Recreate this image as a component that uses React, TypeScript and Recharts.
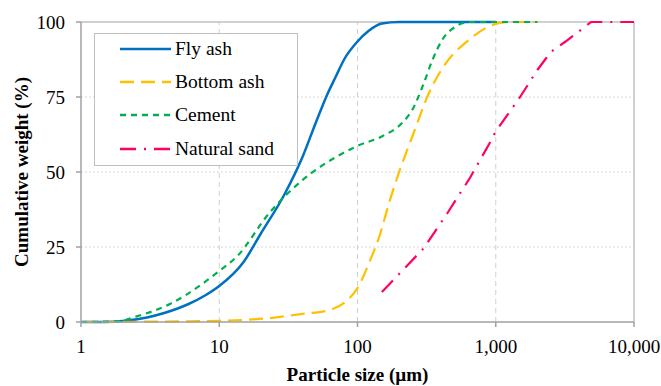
import {
  LineChart,
  Line,
  XAxis,
  YAxis,
  ReferenceLine,
  Label,
} from 'recharts';

type Pt = { size: number; pct: number };

const flyAsh: Pt[] = [
  { size: 1, pct: 0 }, { size: 1.5, pct: 0 }, { size: 2, pct: 0.3 }, { size: 3, pct: 1.5 },
  { size: 4, pct: 3 }, { size: 5, pct: 4.5 }, { size: 6, pct: 6 }, { size: 8, pct: 9 },
  { size: 10, pct: 12 }, { size: 15, pct: 20 }, { size: 20, pct: 29.5 }, { size: 30, pct: 43 },
  { size: 40, pct: 55 }, { size: 50, pct: 66.5 }, { size: 60, pct: 75.5 }, { size: 70, pct: 82 },
  { size: 80, pct: 87.5 }, { size: 100, pct: 93.5 }, { size: 120, pct: 97 }, { size: 150, pct: 99.5 },
  { size: 200, pct: 100 }, { size: 1000, pct: 100 },
];

const bottomAsh: Pt[] = [
  { size: 1, pct: 0 }, { size: 3, pct: 0.1 }, { size: 10, pct: 0.4 }, { size: 23, pct: 1.3 },
  { size: 40, pct: 2.7 }, { size: 63, pct: 4 }, { size: 83, pct: 7 }, { size: 100, pct: 11.3 },
  { size: 122, pct: 20 }, { size: 145, pct: 29 }, { size: 170, pct: 40 }, { size: 200, pct: 50 },
  { size: 250, pct: 62 }, { size: 330, pct: 76.5 }, { size: 436, pct: 86.3 }, { size: 640, pct: 94 },
  { size: 890, pct: 98.5 }, { size: 1250, pct: 100 }, { size: 2000, pct: 100 },
];

const cement: Pt[] = [
  { size: 1, pct: 0 }, { size: 1.9, pct: 0.3 }, { size: 2.5, pct: 1.8 }, { size: 4.4, pct: 6 },
  { size: 7.7, pct: 13 }, { size: 10, pct: 17 }, { size: 13.4, pct: 21.8 }, { size: 23, pct: 36.3 },
  { size: 40, pct: 47.3 }, { size: 54, pct: 51.8 }, { size: 70, pct: 55 }, { size: 100, pct: 58.7 },
  { size: 152, pct: 62 }, { size: 212, pct: 66.5 }, { size: 251, pct: 71 }, { size: 296, pct: 78.6 },
  { size: 349, pct: 87.4 }, { size: 409, pct: 94 }, { size: 514, pct: 98.5 }, { size: 640, pct: 100 },
  { size: 2000, pct: 100 },
];

const naturalSand: Pt[] = [
  { size: 150, pct: 10 }, { size: 300, pct: 24.5 }, { size: 450, pct: 36.5 }, { size: 650, pct: 48 },
  { size: 900, pct: 59.5 }, { size: 1000, pct: 63.5 }, { size: 1500, pct: 75 }, { size: 2000, pct: 84 },
  { size: 2500, pct: 90 }, { size: 3200, pct: 93.5 }, { size: 4900, pct: 100 }, { size: 10000, pct: 100 },
];

const xTicks = [1, 10, 100, 1000, 10000];
const yTicks = [0, 25, 50, 75, 100];

const series = [
  { name: 'Fly ash', data: flyAsh, color: '#0070C0', dash: undefined, width: 2.5, type: 'monotone' },
  { name: 'Bottom ash', data: bottomAsh, color: '#FFC000', dash: '14 7', width: 2.2, type: 'monotone' },
  { name: 'Cement', data: cement, color: '#00B050', dash: '6 5', width: 2.2, type: 'monotone' },
  { name: 'Natural sand', data: naturalSand, color: '#FF0066', dash: '16 8 2 8', width: 2.2, type: 'linear' },
] as const;

const font = '"Liberation Serif", "Times New Roman", serif';
const tickStyle = { fontSize: 19, fill: '#000', fontFamily: font };
const axisStroke = { stroke: '#a0a0a0', strokeWidth: 1.5 };

function YTitle(props: any) {
  const vb = props.viewBox || {};
  const cy = (vb.y ?? 22) + (vb.height ?? 300) / 2;
  const cx = 21;
  return (
    <text
      x={cx}
      y={cy}
      transform={`rotate(-90, ${cx}, ${cy})`}
      textAnchor="middle"
      dominantBaseline="central"
      style={{ fontSize: 19, fontWeight: 'bold', fill: '#000', fontFamily: font }}
    >
      Cumulative weight (%)
    </text>
  );
}

// legend drawn as a plain box over the plot, like the original
function LegendBox() {
  return (
    <div
      style={{
        position: 'absolute',
        left: 94,
        top: 33,
        width: 204,
        height: 133,
        border: '1.5px solid #c0c0c0',
        background: '#fff',
        fontFamily: font,
        fontSize: 19.5,
        color: '#000',
        boxSizing: 'border-box',
      }}
    >
      <div style={{ position: 'relative', top: -2 }}>
        {series.map((s) => (
          <div key={s.name} style={{ display: 'flex', alignItems: 'center', height: 33.4 }}>
            <svg width={80} height={10}>
              <line
                x1={25}
                x2={76}
                y1={5}
                y2={5}
                stroke={s.color}
                strokeWidth={2.5}
                strokeDasharray={s.dash}
              />
            </svg>
            <span>{s.name}</span>
          </div>
        ))}
      </div>
    </div>
  );
}

export default function App() {
  return (
    <div style={{ position: 'absolute', left: 0, top: 0, width: 661, height: 386, background: '#fff' }}>
      <LineChart
        width={661}
        height={386}
        margin={{ top: 22, right: 27, left: 0, bottom: 0 }}
        style={{ fontFamily: font }}
      >
        {xTicks.slice(1, -1).map((t) => (
          <ReferenceLine key={`vx${t}`} x={t} stroke="#d0d0d0" strokeDasharray="5 4" />
        ))}
        {yTicks.slice(1, -1).map((t) => (
          <ReferenceLine key={`hy${t}`} y={t} stroke="#d6d6d6" strokeDasharray="2 2" />
        ))}
        <ReferenceLine y={100} stroke="#c0c0c0" strokeWidth={1.5} />
        <ReferenceLine x={10000} stroke="#c0c0c0" strokeWidth={1.5} />
        <XAxis
          type="number"
          dataKey="size"
          scale="log"
          domain={[1, 10000]}
          ticks={xTicks}
          allowDataOverflow
          tickFormatter={(v: number) => v.toLocaleString('en-US')}
          tick={tickStyle}
          tickSize={5}
          tickMargin={13}
          axisLine={axisStroke}
          tickLine={axisStroke}
          height={64}
          label={{
            value: 'Particle size (µm)',
            position: 'insideBottom',
            offset: 5,
            style: { fontSize: 19, fontWeight: 'bold', fill: '#000', fontFamily: font },
          }}
        />
        <YAxis
          type="number"
          domain={[0, 100]}
          ticks={yTicks}
          tick={tickStyle}
          tickSize={5}
          tickMargin={11}
          axisLine={axisStroke}
          tickLine={axisStroke}
          width={81}
        >
          <Label content={YTitle} />
        </YAxis>
        {series.map((s) => (
          <Line
            key={s.name}
            name={s.name}
            data={s.data as unknown as Pt[]}
            dataKey="pct"
            type={s.type}
            stroke={s.color}
            strokeWidth={s.width}
            strokeDasharray={s.dash}
            dot={false}
            activeDot={false}
            isAnimationActive={false}
          />
        ))}
      </LineChart>
      <LegendBox />
    </div>
  );
}
